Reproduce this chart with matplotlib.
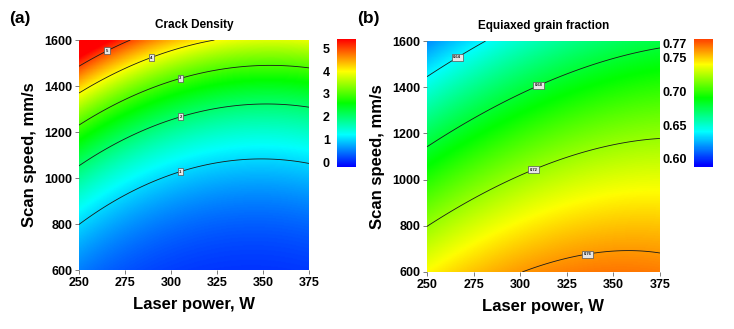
import numpy as np
import matplotlib
matplotlib.use("Agg")
import matplotlib.pyplot as plt
from matplotlib.colors import LinearSegmentedColormap, Normalize

plt.rcParams["font.family"] = ["Liberation Sans", "DejaVu Sans"]
plt.rcParams["font.weight"] = "bold"

# contour lines traced on the response surfaces: (laser power W, scan speed mm/s)
crack_levels = [1, 2, 3, 4, 5]
crack_power = [
    [250, 275, 305, 350, 375],
    [250, 275, 305, 355, 375],
    [250, 275, 305, 350, 375],
    [250, 289, 325],
    [250, 265, 279.5],
]
crack_speed = [
    [803, 918, 1030, 1078, 1067],
    [1054, 1170, 1272, 1317, 1310],
    [1228, 1340, 1436, 1487, 1480],
    [1368, 1529, 1600],
    [1484, 1557, 1600],
]
crack_label_pos = [(305, 1030), (305, 1272), (305, 1436), (289, 1529), (265, 1557)]
crack_ticks = [0, 1, 2, 3, 4, 5]
crack_range = (-0.2, 5.4)

grain_levels = [0.64, 0.68, 0.72, 0.76]
grain_power = [
    [250, 266, 282],
    [250, 310, 346, 375],
    [250, 307, 346, 375],
    [302, 318, 336, 353, 375],
]
grain_speed = [
    [1446, 1533, 1600],
    [1138, 1408, 1504, 1576],
    [797, 1045, 1145, 1181],
    [600, 650, 683, 689, 676],
]
grain_label_pos = [(266, 1533), (310, 1408), (307, 1045), (336, 683)]
grain_ticks = [0.60, 0.65, 0.70, 0.75, 0.77]
grain_range = (0.588, 0.777)

power_ticks = [250, 275, 300, 325, 350, 375]
speed_ticks = [600, 800, 1000, 1200, 1400, 1600]

cmap = LinearSegmentedColormap.from_list(
    "de", ["#0000ff", "#00ffff", "#00ff00", "#ffff00", "#ff0000"])


def quad_terms(p, v):
    x1 = (np.asarray(p, float) - 312.5) / 62.5
    x2 = (np.asarray(v, float) - 1100.0) / 500.0
    return np.stack([np.ones_like(x1), x1, x2, x1 * x2, x1 ** 2, x2 ** 2], axis=-1)


def fit_surface(levels, powers, speeds, transform, inverse):
    p = np.concatenate([np.asarray(a, float) for a in powers])
    v = np.concatenate([np.asarray(a, float) for a in speeds])
    z = np.concatenate([[transform(lv)] * len(a) for lv, a in zip(levels, powers)])
    coef, *_ = np.linalg.lstsq(quad_terms(p, v), z, rcond=None)
    P, V = np.meshgrid(np.linspace(250, 375, 300), np.linspace(600, 1600, 300))
    return P, V, inverse(quad_terms(P, V) @ coef)


fig = plt.figure(figsize=(7.34, 3.29), dpi=100)


def draw_panel(ax_rect, cax_rect, P, V, Z, levels, label_pos, label_fmt,
               norm, cbar_range, cbar_ticks, cbar_fmt, title, tag, tag_x):
    ax = fig.add_axes(ax_rect)
    ax.pcolormesh(P, V, Z, cmap=cmap, norm=norm, shading="gouraud")
    cs = ax.contour(P, V, Z, levels=levels, colors="#1a1a1a", linewidths=0.6)
    labels = ax.clabel(cs, fmt=label_fmt, fontsize=3, inline=True,
                       inline_spacing=1, manual=label_pos)
    for t in labels:
        t.set_rotation(0)
        t.set_bbox(dict(boxstyle="square,pad=0.35", fc="#e6e6e6", ec="#555555", lw=0.5))
    ax.set_xlim(250, 375)
    ax.set_ylim(600, 1600)
    ax.set_xticks(power_ticks)
    ax.set_yticks(speed_ticks)
    ax.tick_params(labelsize=9, length=3, width=0.6, color="#666666", pad=2)
    for s in ax.spines.values():
        s.set_visible(False)
    ax.set_xlabel("Laser power, W", fontsize=12, fontweight="bold", labelpad=6)
    ax.set_ylabel("Scan speed, mm/s", fontsize=12, fontweight="bold", labelpad=5)
    ax.set_title(title, fontsize=8.5, fontweight="bold", pad=9)
    fig.text(tag_x, 0.93, tag, fontsize=12.5, fontweight="bold")

    cax = fig.add_axes(cax_rect)
    sm = plt.cm.ScalarMappable(norm=norm, cmap=cmap)
    cb = fig.colorbar(sm, cax=cax,
                      boundaries=np.linspace(cbar_range[0], cbar_range[1], 256))
    cb.outline.set_visible(False)
    cb.set_ticks(cbar_ticks)
    cb.set_ticklabels([cbar_fmt % t for t in cbar_ticks])
    cax.yaxis.set_ticks_position("left")
    cax.tick_params(length=0, labelsize=9, pad=5)
    return ax


P1, V1, Z1 = fit_surface(crack_levels, crack_power, crack_speed,
                         np.sqrt, lambda q: np.clip(q, 0, None) ** 2)
draw_panel([0.1076, 0.1793, 0.3134, 0.699], [0.459, 0.4924, 0.026, 0.389],
           P1, V1, Z1, crack_levels, crack_label_pos, "%d",
           Normalize(*crack_range), crack_range, crack_ticks, "%d",
           "Crack Density", "(a)", 0.012)

P2, V2, Z2 = fit_surface(grain_levels, grain_power, grain_speed,
                         lambda x: x, lambda q: q)
draw_panel([0.5817, 0.1733, 0.3174, 0.702], [0.9455, 0.4924, 0.026, 0.389],
           P2, V2, Z2, grain_levels, grain_label_pos, "%.2f",
           Normalize(0.59, 0.79), grain_range, grain_ticks, "%.2f",
           "Equiaxed grain fraction", "(b)", 0.487)

fig.savefig("out.png", dpi=100)
